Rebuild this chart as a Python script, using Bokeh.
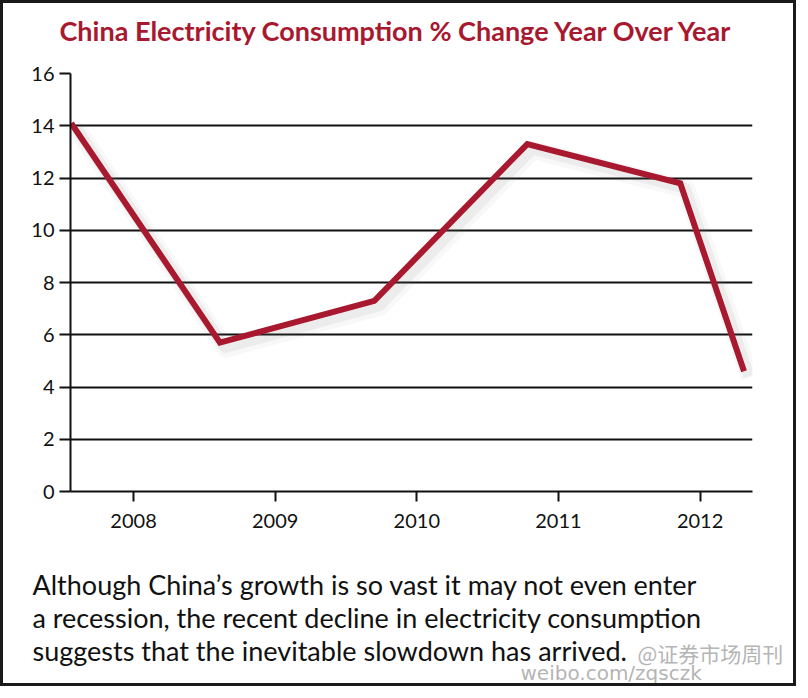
from bokeh.plotting import figure
from bokeh.layouts import column
from bokeh.models import Range1d, FixedTicker
from bokeh.core.properties import value
from bokeh.embed import file_html
from bokeh.resources import INLINE

# ---- data ----
years = [2007.56, 2008.61, 2009.70, 2010.78, 2011.86, 2012.31]
pct_change = [14.1, 5.7, 7.3, 13.3, 11.8, 4.6]
x_ticks = [2008, 2009, 2010, 2011, 2012]
y_ticks = [0, 2, 4, 6, 8, 10, 12, 14, 16]

title_text = "China Electricity Consumption % Change Year Over Year"
caption_lines = [
    "Although China\u2019s growth is so vast it may not even enter",
    "a recession, the recent decline in electricity consumption",
    "suggests that the inevitable slowdown has arrived.",
]
watermark_lines = ["@\u8bc1\u5238\u5e02\u573a\u5468\u520a", "weibo.com/zqsczk"]

RED = "#a8182f"
INK = "#111111"
FONT = "Lato"

X0, X1 = 2007.555, 2012.37
Y0, Y1 = 0, 16

W = 790
H_T = 56
H_P = 488
H_B = 136


def text_panel(height):
    f = figure(width=W, height=height, output_backend="svg", toolbar_location=None,
               x_range=Range1d(0, W), y_range=Range1d(height, 0),
               x_axis_location=None, y_axis_location=None,
               min_border=0, min_border_left=0, min_border_right=0,
               min_border_top=0, min_border_bottom=0)
    f.frame_align = False
    f.grid.visible = False
    f.outline_line_color = None
    f.background_fill_color = "white"
    f.border_fill_color = "white"
    return f


# ---- title panel ----
top = text_panel(H_T)
top.text(x=[56], y=[27], text=[title_text], text_font=value(FONT), text_font_size="27px",
         text_font_style="bold", text_color=RED, text_baseline="middle", text_align="left")

# ---- chart ----
p = figure(width=W, height=H_P, output_backend="svg", toolbar_location=None,
           x_range=Range1d(X0, X1), y_range=Range1d(Y0, Y1),
           min_border_left=67, min_border_right=41, min_border_top=14, min_border_bottom=56)
p.frame_align = False
p.outline_line_color = None
p.background_fill_color = "white"
p.border_fill_color = "white"

# soft shadow (offsets given in pixels, converted through the scales)
px_x = (X1 - X0) / 682.0
px_y = (Y1 - Y0) / 418.0
for w, a, off in [(18, 0.05, 6), (11, 0.09, 5)]:
    p.line([v + off * px_x for v in years], [v - off * px_y for v in pct_change],
           line_color="#7a7a7a", line_width=w, line_alpha=a, line_join="round")
p.line(years, pct_change, line_color=RED, line_width=6, line_join="miter")

p.xaxis.ticker = FixedTicker(ticks=x_ticks)
p.yaxis.ticker = FixedTicker(ticks=y_ticks)
for ax in (p.xaxis[0], p.yaxis[0]):
    ax.axis_line_color = INK
    ax.axis_line_width = 2
    ax.major_tick_line_color = INK
    ax.major_tick_line_width = 2
    ax.minor_tick_line_color = None
    ax.major_tick_in = 0
    ax.major_label_text_font = FONT
    ax.major_label_text_font_size = "20px"
    ax.major_label_text_color = INK
p.xaxis.major_tick_out = 10
p.xaxis.major_label_standoff = 12
p.yaxis.major_tick_out = 11
p.yaxis.major_label_standoff = 5

p.xgrid.grid_line_color = None
p.ygrid.grid_line_color = INK
p.ygrid.grid_line_width = 2

# ---- caption panel ----
q = text_panel(H_B)
q.text(x=[29, 29, 29], y=[37, 70, 103], text=caption_lines,
       text_font=value(FONT), text_font_size="27px", text_color=INK,
       text_baseline="alphabetic", text_align="left")
q.text(x=[634], y=[105], text=[watermark_lines[0]],
       text_font=value("Noto Sans CJK SC"), text_font_size="21px", text_color="#b5b5b5",
       text_baseline="alphabetic", text_align="left")
q.text(x=[517], y=[125], text=[watermark_lines[1]],
       text_font=value("DejaVu Sans"), text_font_size="20px", text_color="#b5b5b5",
       text_baseline="alphabetic", text_align="left")

layout = column(top, p, q, spacing=0,
                styles={"border": "3px solid #1a1a1a", "box-sizing": "content-box"})
open("out.html", "w").write(file_html(layout, INLINE))
